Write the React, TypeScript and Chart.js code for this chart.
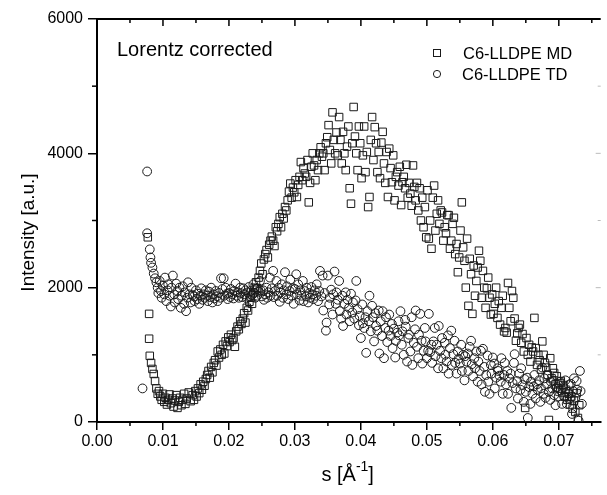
import React, { useEffect, useRef } from "react";
import { Chart, registerables } from "chart.js";
Chart.register(...registerables);

const FONT = '"Liberation Sans", Arial, Helvetica, sans-serif';
const X_MIN = 0;
const X_MAX = 0.07635;
const Y_MIN = 0;
const Y_MAX = 6000;
const X_STEP = 0.01;
const Y_STEP = 2000;
const seriesNames = ["C6-LLDPE MD", "C6-LLDPE TD"];
const noteText = "Lorentz corrected";
const yTitle = "Intensity [a.u.]";
const xTitleMain = "s [Å";
const xTitleSup = "-1";
const xTitleEnd = "]";

// C6-LLDPE MD (squares): [s, intensity]
const mdData: [number, number][] = [
  [0.0077, 2750], [0.0079, 1610], [0.0079, 1240], [0.0080, 985], [0.0082, 880], [0.0084, 790],
  [0.0086, 715], [0.0088, 610], [0.0090, 500], [0.0092, 420], [0.0094, 460], [0.0096, 380],
  [0.0098, 330], [0.0100, 420], [0.0102, 300], [0.0104, 360], [0.0106, 260], [0.0108, 330],
  [0.0110, 410], [0.0112, 280], [0.0114, 350], [0.0116, 230], [0.0118, 320], [0.0120, 400],
  [0.0122, 210], [0.0124, 300], [0.0126, 360], [0.0128, 250], [0.0130, 330], [0.0132, 420],
  [0.0134, 270], [0.0136, 350], [0.0139, 440], [0.0142, 310],
  [0.0145, 400], [0.0147, 330], [0.0149, 460], [0.0151, 380], [0.0153, 500], [0.0155, 430],
  [0.0157, 560], [0.0159, 480], [0.0161, 600], [0.0163, 540],
  [0.0165, 640], [0.0167, 700], [0.0169, 760], [0.0171, 660], [0.0173, 820], [0.0175, 740],
  [0.0177, 880], [0.0179, 920], [0.0181, 840], [0.0183, 1050],
  [0.0185, 960], [0.0187, 1080], [0.0189, 1000], [0.0191, 1150], [0.0193, 1020], [0.0195, 1200],
  [0.0197, 1130], [0.0199, 1260], [0.0201, 1190], [0.0203, 1300],
  [0.0205, 1220],
  [0.0207, 1250], [0.0209, 1120], [0.0211, 1350], [0.0213, 1420], [0.0215, 1380], [0.0217, 1500],
  [0.0219, 1460], [0.0221, 1540], [0.0223, 1620], [0.0225, 1480],
  [0.0227, 1700], [0.0229, 1660], [0.0231, 1790], [0.0233, 1850], [0.0235, 1760], [0.0237, 1930],
  [0.0239, 2000], [0.0241, 2080], [0.0243, 1990], [0.0245, 2150],
  [0.0247, 2250], [0.0249, 2360], [0.0251, 2200], [0.0253, 2420], [0.0255, 2500], [0.0257, 2560],
  [0.0259, 2450], [0.0261, 2640], [0.0263, 2700], [0.0265, 2760],
  [0.0267, 2700],
  [0.0269, 2620], [0.0271, 2900], [0.0273, 2840], [0.0275, 2950], [0.0277, 3050], [0.0279, 2900],
  [0.0281, 3100], [0.0283, 3030], [0.0285, 3200], [0.0287, 3150],
  [0.0289, 3300], [0.0291, 3430], [0.0293, 3550], [0.0295, 3340], [0.0297, 3490], [0.0299, 3420],
  [0.0301, 3600], [0.0303, 3350], [0.0305, 3530], [0.0307, 3650],
  [0.0309, 3870], [0.0311, 3600], [0.0313, 3780], [0.0315, 3700], [0.0317, 3650], [0.0319, 3900],
  [0.0321, 3270], [0.0323, 3560], [0.0325, 3800], [0.0327, 4000],
  [0.0329, 3820],
  [0.0331, 3600], [0.0333, 3900], [0.0335, 3750], [0.0337, 4000], [0.0339, 4090], [0.0341, 3950],
  [0.0343, 4000], [0.0345, 3750], [0.0347, 4150], [0.0349, 4240],
  [0.0351, 4420], [0.0353, 4050], [0.0355, 3850], [0.0357, 4610], [0.0359, 4200], [0.0361, 4000],
  [0.0363, 4310], [0.0365, 3970], [0.0367, 4540], [0.0369, 4200],
  [0.0371, 3850], [0.0373, 4320], [0.0375, 4000], [0.0377, 3750], [0.0379, 4100], [0.0381, 4400],
  [0.0383, 3480], [0.0385, 3250], [0.0387, 4150], [0.0389, 4690],
  [0.0391, 4250],
  [0.0393, 4000], [0.0395, 3750], [0.0397, 4400], [0.0399, 4150], [0.0401, 3630], [0.0403, 3970],
  [0.0405, 4400], [0.0407, 3720], [0.0409, 4020], [0.0411, 3200],
  [0.0413, 3350], [0.0415, 4200], [0.0417, 4540], [0.0419, 3900], [0.0421, 4390], [0.0423, 4150],
  [0.0425, 3720], [0.0427, 4020], [0.0429, 3630], [0.0431, 4160],
  [0.0433, 4320], [0.0435, 3850], [0.0437, 3560], [0.0439, 4020], [0.0441, 3350], [0.0443, 4070],
  [0.0445, 3780], [0.0447, 3570], [0.0449, 3970], [0.0451, 3300],
  [0.0453, 3650],
  [0.0455, 3720], [0.0457, 3520], [0.0459, 3800], [0.0461, 3230], [0.0463, 3570], [0.0465, 3650],
  [0.0467, 3480], [0.0469, 3830], [0.0471, 3340], [0.0473, 3560],
  [0.0475, 3400], [0.0477, 3220], [0.0479, 3820], [0.0481, 3500], [0.0483, 3300], [0.0485, 3560],
  [0.0487, 3150], [0.0489, 3480], [0.0491, 3000], [0.0493, 3340],
  [0.0495, 2900], [0.0497, 3200], [0.0499, 2750], [0.0501, 3450], [0.0503, 2730], [0.0505, 3000],
  [0.0507, 2580], [0.0509, 3340], [0.0511, 3520], [0.0513, 2850],
  [0.0515, 3100],
  [0.0517, 3300], [0.0519, 2950], [0.0521, 3150], [0.0523, 3120], [0.0525, 2700], [0.0527, 2900],
  [0.0529, 2810], [0.0531, 3080], [0.0533, 3080], [0.0535, 2580],
  [0.0537, 2700], [0.0539, 2950], [0.0541, 3040], [0.0543, 2500], [0.0545, 2650], [0.0547, 2230],
  [0.0549, 2450], [0.0551, 2850], [0.0553, 3270], [0.0555, 2600],
  [0.0557, 2400], [0.0559, 2000], [0.0561, 2730], [0.0563, 1730], [0.0565, 2430], [0.0567, 2200],
  [0.0569, 1610], [0.0571, 2330], [0.0573, 1880], [0.0575, 2100],
  [0.0577, 2300],
  [0.0579, 2550], [0.0581, 2400], [0.0583, 1850], [0.0585, 2250], [0.0587, 2000], [0.0589, 1700],
  [0.0591, 1990], [0.0593, 2150], [0.0595, 1850], [0.0597, 1600],
  [0.0599, 1900], [0.0601, 1610], [0.0603, 1760], [0.0605, 2000], [0.0607, 1550], [0.0609, 1800],
  [0.0611, 1450], [0.0613, 1700], [0.0615, 1880], [0.0617, 1350],
  [0.0619, 1400], [0.0621, 1330], [0.0623, 2070], [0.0625, 1700], [0.0627, 1500], [0.0629, 1950],
  [0.0631, 1850], [0.0633, 1540], [0.0635, 1210], [0.0637, 1320],
  [0.0639, 1400],
  [0.0641, 1450], [0.0643, 1180], [0.0645, 1310], [0.0647, 1050], [0.0649, 210], [0.0651, 1250],
  [0.0653, 1000], [0.0655, 1150], [0.0657, 900], [0.0659, 1110],
  [0.0661, 1050], [0.0663, 1550], [0.0665, 1100], [0.0667, 850], [0.0669, 1000], [0.0671, 920],
  [0.0673, 780], [0.0675, 1200], [0.0677, 1000], [0.0679, 880],
  [0.0681, 810], [0.0683, 700], [0.0685, 30], [0.0687, 950], [0.0689, 650], [0.0691, 800],
  [0.0693, 730], [0.0695, 560], [0.0697, 680], [0.0699, 500],
  [0.0701, 580],
  [0.0703, 610], [0.0705, 440], [0.0707, 550], [0.0709, 380], [0.0711, 480], [0.0713, 330],
  [0.0715, 420], [0.0717, 260], [0.0719, 380], [0.0721, 200],
  [0.0723, 320], [0.0725, 150], [0.0727, 430], [0.0729, 60], [0.0731, 250],
];

// C6-LLDPE TD (circles): [s, intensity]
const tdData: [number, number][] = [
  [0.0069, 500], [0.0076, 3730], [0.0076, 2810], [0.0080, 2570], [0.0081, 2450], [0.0082, 2370],
  [0.0084, 2300], [0.0086, 2210], [0.0088, 2140], [0.0090, 2080], [0.0092, 2000], [0.0093, 1920],
  [0.0095, 2100], [0.0097, 1950], [0.0098, 1850],
  [0.0100, 2030], [0.0102, 1900], [0.0103, 2150], [0.0105, 1800], [0.0107, 1960], [0.0108, 2050],
  [0.0110, 1880], [0.0112, 1720], [0.0113, 2000], [0.0115, 2180], [0.0117, 1900], [0.0118, 1780],
  [0.0120, 2060], [0.0122, 1950], [0.0123, 1830], [0.0125, 2000], [0.0127, 1700], [0.0128, 1880],
  [0.0130, 2020], [0.0132, 1760], [0.0133, 1930], [0.0135, 1650], [0.0137, 1850], [0.0138, 2080],
  [0.0140, 1900], [0.0142, 1780], [0.0143, 2000], [0.0145, 1890], [0.0147, 1870], [0.0148, 1800],
  [0.0150, 1960], [0.0152, 1830], [0.0153, 1910], [0.0155, 1760], [0.0157, 1880], [0.0158, 1990],
  [0.0160, 1820], [0.0162, 1900], [0.0163, 1850], [0.0165, 1960], [0.0167, 1880], [0.0168, 1800],
  [0.0170, 1940], [0.0172, 1860], [0.0173, 2000], [0.0175, 1780], [0.0177, 1900], [0.0178, 1840],
  [0.0180, 1950], [0.0182, 1870], [0.0183, 1800], [0.0185, 1920], [0.0187, 1850], [0.0188, 2140],
  [0.0190, 1980], [0.0192, 2140], [0.0193, 1880], [0.0195, 2000], [0.0197, 1910], [0.0198, 1830],
  [0.0200, 1920], [0.0202, 1860], [0.0203, 1980], [0.0205, 1900], [0.0207, 1840], [0.0208, 1950],
  [0.0210, 2060], [0.0212, 1880], [0.0213, 1930], [0.0215, 1850], [0.0217, 2000], [0.0218, 1920],
  [0.0220, 1860], [0.0222, 1990], [0.0223, 1900], [0.0225, 1960], [0.0227, 1840], [0.0228, 1930],
  [0.0230, 2010], [0.0232, 1870], [0.0233, 1950], [0.0235, 1890], [0.0237, 2050], [0.0238, 1920],
  [0.0240, 1850], [0.0242, 1980], [0.0243, 1880], [0.0245, 1940], [0.0247, 2100], [0.0248, 1960],
  [0.0250, 1870], [0.0252, 1960], [0.0253, 1820], [0.0255, 1900], [0.0257, 2000], [0.0258, 1850],
  [0.0260, 1930], [0.0262, 2150], [0.0263, 1880], [0.0265, 1990], [0.0267, 2250], [0.0268, 1860],
  [0.0270, 1950], [0.0272, 2100], [0.0273, 1880], [0.0275, 2000], [0.0277, 1790], [0.0278, 1930],
  [0.0280, 2050], [0.0282, 1850], [0.0283, 1960], [0.0285, 2230], [0.0287, 1900], [0.0288, 2020],
  [0.0290, 1830], [0.0292, 1950], [0.0293, 2120], [0.0295, 1880], [0.0297, 1990], [0.0298, 1760],
  [0.0300, 1980], [0.0302, 2200], [0.0303, 1900], [0.0305, 2050], [0.0307, 1810], [0.0308, 1960],
  [0.0310, 1880], [0.0312, 2100], [0.0313, 1800], [0.0315, 1950], [0.0317, 1870], [0.0318, 2000],
  [0.0320, 1780], [0.0322, 1920], [0.0323, 1850], [0.0325, 2010], [0.0327, 1900], [0.0328, 1830],
  [0.0330, 1960], [0.0332, 1880], [0.0333, 2050], [0.0335, 1800], [0.0337, 1950], [0.0338, 2250],
  [0.0340, 1870], [0.0342, 2180], [0.0343, 1660], [0.0345, 1920], [0.0347, 1360], [0.0348, 1480],
  [0.0350, 2180], [0.0352, 1750], [0.0353, 1850], [0.0355, 1970], [0.0357, 1600], [0.0358, 1900],
  [0.0360, 2240], [0.0362, 1760], [0.0363, 1930], [0.0365, 1820], [0.0367, 2100], [0.0368, 1650],
  [0.0370, 1540], [0.0372, 1880], [0.0373, 1430], [0.0375, 1760], [0.0377, 1930], [0.0378, 1600],
  [0.0380, 1820], [0.0382, 1700], [0.0383, 1500], [0.0385, 1910], [0.0387, 1630], [0.0388, 1780],
  [0.0390, 1540], [0.0392, 1810], [0.0393, 2100], [0.0395, 1680], [0.0397, 1440], [0.0398, 1580],
  [0.0400, 1250], [0.0402, 1750], [0.0403, 1470], [0.0405, 1400], [0.0407, 1560], [0.0408, 1030],
  [0.0410, 1650], [0.0412, 1500], [0.0413, 1880], [0.0415, 1350], [0.0417, 1730], [0.0418, 1560],
  [0.0420, 1200], [0.0422, 1620], [0.0423, 1430], [0.0425, 1360], [0.0427, 1660], [0.0428, 1020],
  [0.0430, 1500], [0.0432, 1280], [0.0433, 1650], [0.0435, 950], [0.0437, 1400], [0.0438, 1560],
  [0.0440, 1190], [0.0442, 1360], [0.0443, 1600], [0.0445, 1280], [0.0447, 1460], [0.0448, 1100],
  [0.0450, 1390], [0.0452, 960], [0.0453, 1210], [0.0455, 1330], [0.0457, 1500], [0.0458, 1290],
  [0.0460, 1650], [0.0462, 1150], [0.0463, 1350], [0.0465, 1000], [0.0467, 1520], [0.0468, 1420],
  [0.0470, 900], [0.0472, 1250], [0.0473, 1300], [0.0475, 1050], [0.0477, 1560], [0.0478, 850],
  [0.0480, 1180], [0.0482, 1380], [0.0483, 1660], [0.0485, 1120], [0.0487, 950], [0.0488, 1300],
  [0.0490, 1610], [0.0492, 1210], [0.0493, 870], [0.0495, 1060], [0.0497, 1400], [0.0498, 1200],
  [0.0500, 950], [0.0502, 1060], [0.0503, 1610], [0.0505, 1040], [0.0507, 1150], [0.0508, 880],
  [0.0510, 1200], [0.0512, 1400], [0.0513, 980], [0.0515, 1150], [0.0517, 800], [0.0518, 1430],
  [0.0520, 1060], [0.0522, 950], [0.0523, 1250], [0.0525, 800], [0.0527, 1180], [0.0528, 1000],
  [0.0530, 900], [0.0532, 1290], [0.0533, 720], [0.0535, 1100], [0.0537, 1360], [0.0538, 850],
  [0.0540, 1010], [0.0542, 1210], [0.0543, 880], [0.0545, 720], [0.0547, 1050], [0.0548, 940],
  [0.0550, 870], [0.0552, 1150], [0.0553, 760], [0.0555, 1000], [0.0557, 620], [0.0558, 980],
  [0.0560, 900], [0.0562, 1020], [0.0563, 760], [0.0565, 1120], [0.0567, 1210], [0.0568, 860],
  [0.0570, 680], [0.0572, 950], [0.0573, 800], [0.0575, 1050], [0.0577, 600], [0.0578, 900],
  [0.0580, 760], [0.0582, 1060], [0.0583, 560], [0.0585, 1090], [0.0587, 820], [0.0588, 450],
  [0.0590, 700], [0.0592, 990], [0.0593, 600], [0.0595, 420], [0.0597, 850], [0.0598, 720],
  [0.0600, 960], [0.0602, 870], [0.0603, 500], [0.0605, 660], [0.0607, 800], [0.0608, 760],
  [0.0610, 690], [0.0612, 600], [0.0613, 950], [0.0615, 420], [0.0617, 700], [0.0618, 880],
  [0.0620, 560], [0.0622, 760], [0.0623, 420], [0.0625, 650], [0.0627, 720], [0.0628, 210],
  [0.0630, 580], [0.0632, 880], [0.0633, 1010], [0.0635, 500], [0.0637, 610], [0.0638, 350],
  [0.0640, 720], [0.0642, 480], [0.0643, 800], [0.0645, 550], [0.0647, 300], [0.0648, 640],
  [0.0650, 450], [0.0652, 660], [0.0653, 60], [0.0655, 520], [0.0657, 270], [0.0658, 600],
  [0.0660, 420], [0.0662, 530], [0.0663, 700], [0.0665, 350], [0.0667, 560], [0.0668, 480],
  [0.0670, 620], [0.0672, 300], [0.0673, 500], [0.0675, 810], [0.0677, 420], [0.0678, 650],
  [0.0680, 360], [0.0682, 560], [0.0683, 700], [0.0685, 450], [0.0687, 330], [0.0688, 600],
  [0.0690, 500], [0.0692, 610], [0.0693, 400], [0.0695, 250], [0.0697, 520], [0.0698, 460],
  [0.0700, 380], [0.0702, 600], [0.0703, 470], [0.0705, 270], [0.0707, 520], [0.0708, 380],
  [0.0710, 620], [0.0712, 270], [0.0713, 450], [0.0715, 550], [0.0717, 350], [0.0718, 570],
  [0.0720, 120], [0.0722, 460], [0.0723, 650], [0.0725, 360], [0.0727, 610], [0.0728, 480],
  [0.0730, 20], [0.0732, 760], [0.0733, 460], [0.0735, 270],
];

const INK = "#1a1a1a";

const framePlugin = {
  id: "frame",
  afterDraw(chart: any) {
    const { ctx, chartArea: a, scales } = chart;
    const xs = scales.x;
    const ys = scales.y;
    const line = (x1: number, y1: number, x2: number, y2: number) => {
      ctx.beginPath();
      ctx.moveTo(x1, y1);
      ctx.lineTo(x2, y2);
      ctx.stroke();
    };
    ctx.save();
    ctx.strokeStyle = "#000";
    ctx.lineWidth = 2;
    line(a.left - 1, a.top, a.right, a.top);
    ctx.lineWidth = 1.5;
    for (let k = 0; k * 0.005 <= X_MAX + 1e-9; k++) {
      const v = k * 0.005;
      const px = xs.getPixelForValue(v);
      const major = k % 2 === 0;
      if (!major) line(px, a.bottom, px, a.bottom + 4);
      if (k > 0) line(px, a.top, px, a.top + (major ? 7 : 4));
    }
    for (let v = 1000; v < Y_MAX; v += 2000) {
      const py = ys.getPixelForValue(v);
      line(a.left - 5, py, a.left, py);
    }
    ctx.strokeStyle = "#bbb";
    ctx.lineWidth = 1;
    for (let v = 1000; v < Y_MAX; v += 1000) {
      const py = ys.getPixelForValue(v);
      line(a.right - (v % 2000 === 0 ? 5 : 3), py, a.right, py);
    }

    ctx.fillStyle = "#000";
    ctx.textBaseline = "alphabetic";
    ctx.textAlign = "left";
    ctx.font = `20px ${FONT}`;
    ctx.fillText(noteText, a.left + 20, a.top + 37);

    const styles = chart.data.datasets;
    ctx.font = `16.5px ${FONT}`;
    seriesNames.forEach((name, i) => {
      const cy = a.top + 34 + i * 21;
      const mx = a.left + 340;
      ctx.strokeStyle = styles[i].borderColor;
      ctx.lineWidth = 1;
      if (i === 0) {
        ctx.strokeRect(mx - 3.5, cy - 3.5, 7, 7);
      } else {
        ctx.beginPath();
        ctx.arc(mx, cy, 3.6, 0, Math.PI * 2);
        ctx.stroke();
      }
      ctx.fillStyle = "#000";
      ctx.textBaseline = "middle";
      ctx.fillText(name, mx + 26 - i * 1, cy + 1);
    });

    ctx.save();
    ctx.translate(29, (a.top + a.bottom) / 2 + 12);
    ctx.rotate(-Math.PI / 2);
    ctx.textAlign = "center";
    ctx.textBaseline = "middle";
    ctx.font = `19px ${FONT}`;
    ctx.fillText(yTitle, 0, 0);
    ctx.restore();

    ctx.textBaseline = "alphabetic";
    ctx.textAlign = "left";
    const big = `20px ${FONT}`;
    const small = `14px ${FONT}`;
    ctx.font = big;
    const w1 = ctx.measureText(xTitleMain).width;
    const w3 = ctx.measureText(xTitleEnd).width;
    ctx.font = small;
    const w2 = ctx.measureText(xTitleSup).width;
    const total = w1 + w2 + w3;
    const cx = xs.getPixelForValue(0.038);
    let x0 = cx - total / 2;
    const base = a.bottom + 59;
    ctx.font = big;
    ctx.fillText(xTitleMain, x0, base);
    x0 += w1;
    ctx.font = small;
    ctx.fillText(xTitleSup, x0, base - 10);
    x0 += w2;
    ctx.font = big;
    ctx.fillText(xTitleEnd, x0, base);
    ctx.restore();
  },
};

export default function App() {
  const ref = useRef<HTMLCanvasElement | null>(null);
  useEffect(() => {
    document.body.style.margin = "0";
    const canvas = ref.current;
    if (!canvas) return;
    const chart = new Chart(canvas, {
      type: "scatter",
      data: {
        datasets: [
          {
            label: seriesNames[0],
            data: mdData.map(([x, y]) => ({ x, y })),
            pointStyle: "rect",
            pointRadius: 5.3,
            borderColor: INK,
            backgroundColor: "rgba(0,0,0,0)",
            borderWidth: 1,
            showLine: false,
          },
          {
            label: seriesNames[1],
            data: tdData.map(([x, y]) => ({ x, y })),
            pointStyle: "circle",
            pointRadius: 4.4,
            borderColor: INK,
            backgroundColor: "rgba(0,0,0,0)",
            borderWidth: 1,
            showLine: false,
          },
        ],
      },
      options: {
        responsive: false,
        animation: false,
        events: [],
        layout: { padding: { top: 19, right: 0, left: 0, bottom: 0 } },
        plugins: { legend: { display: false }, tooltip: { enabled: false } },
        scales: {
          x: {
            type: "linear",
            min: X_MIN,
            max: X_MAX,
            afterFit: (s: any) => { s.height = 73; },
            border: { display: true, color: "#000", width: 2 },
            grid: { display: true, drawOnChartArea: false, drawTicks: true, tickLength: 8, color: "#000", lineWidth: 1.5 },
            ticks: {
              stepSize: X_STEP,
              includeBounds: false,
              autoSkip: false,
              maxRotation: 0,
              padding: 2,
              color: "#000",
              font: { family: FONT, size: 16 },
              callback: (v: any) => Number(v).toFixed(2),
            },
          },
          y: {
            type: "linear",
            min: Y_MIN,
            max: Y_MAX,
            afterFit: (s: any) => { s.width = 97; },
            border: { display: true, color: "#000", width: 2 },
            grid: { display: true, drawOnChartArea: false, drawTicks: true, tickLength: 9, color: "#000", lineWidth: 1.5 },
            ticks: {
              stepSize: Y_STEP,
              padding: 5,
              color: "#000",
              font: { family: FONT, size: 16 },
              callback: (v: any) => String(v),
            },
          },
        },
      },
      plugins: [framePlugin],
    } as any);
    return () => chart.destroy();
  }, []);
  return (
    <div style={{ position: "absolute", left: 0, top: 0, width: 607, height: 495 }}>
      <canvas ref={ref} width={607} height={495} style={{ display: "block" }} />
    </div>
  );
}
